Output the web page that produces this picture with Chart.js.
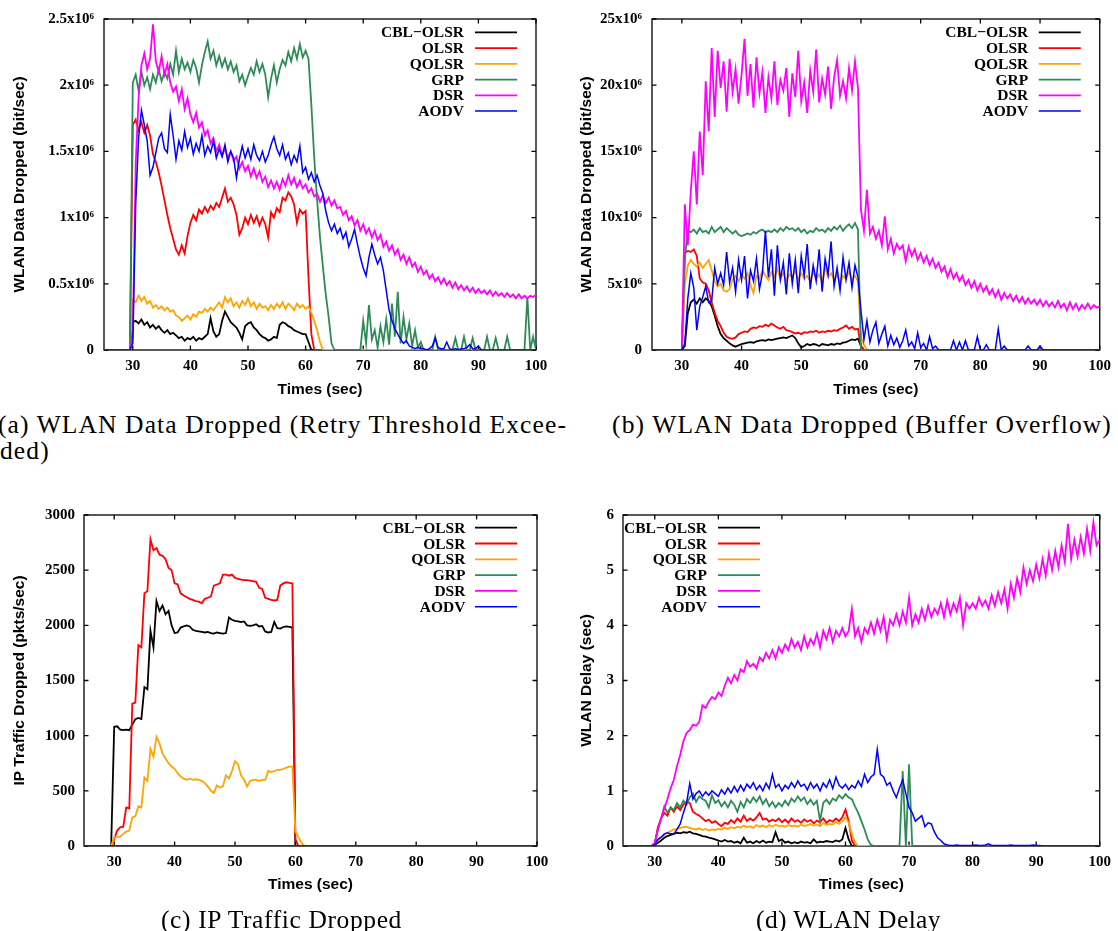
<!DOCTYPE html>
<html><head><meta charset="utf-8">
<script src="https://cdn.jsdelivr.net/npm/chart.js@4/dist/chart.umd.min.js"></script>
<style>
html,body{margin:0;padding:0;background:#fff;width:1118px;height:931px;overflow:hidden;position:relative}
canvas{position:absolute}
.cap{position:absolute;font-family:"Liberation Serif","Times New Roman",serif;font-size:25.5px;line-height:26px;white-space:nowrap;color:#000}
</style></head><body>
<canvas id="ca" width="559" height="400" style="left:0;top:0"></canvas>
<canvas id="cb" width="559" height="400" style="left:559px;top:0"></canvas>
<canvas id="cc" width="559" height="420" style="left:0;top:490px"></canvas>
<canvas id="cd" width="559" height="420" style="left:559px;top:490px"></canvas>
<div class="cap" id="capA1" data-w="569" style="left:-2px;top:412px">(a) WLAN Data Dropped (Retry Threshold Excee-</div>
<div class="cap" id="capA2" style="left:0;top:438px">ded)</div>
<div class="cap" data-w="500" style="left:612px;top:412px">(b) WLAN Data Dropped (Buffer Overflow)</div>
<div class="cap" data-w="241" style="left:161px;top:907px">(c) IP Traffic Dropped</div>
<div class="cap" data-w="185" style="left:756px;top:907px">(d) WLAN Delay</div>
<script>
// ---------- categories ----------
const NAMES = ['CBL\u2212OLSR', 'OLSR', 'QOLSR', 'GRP', 'DSR', 'AODV'];
const COLORS = ['#000000', '#ff0000', '#ffa500', '#2e8b57', '#ff00ff', '#0000ff'];
// sample times (s): 25, then 29.5 .. 100 every 0.5 s
const T = [25];
for (let k = 0; k <= 141; k++) T.push(29.5 + k * 0.5);
const X_TICKS = [30, 40, 50, 60, 70, 80, 90, 100];

// ---------- (a) WLAN Data Dropped, Retry Threshold Exceeded (x10^6 bit/s) ----------
const A_YTICKS = [0, 0.5, 1, 1.5, 2, 2.5];
const A_YLABELS = ['0', '0.5x10\u2076', '1x10\u2076', '1.5x10\u2076', '2x10\u2076', '2.5x10\u2076'];
const A_CBL = [0,0,
.21,.22,.20,.23,.19,.21,.17,.19,.16,.18,
.15,.13,.15,.12,.13,.11,.09,.10,.07,.09,
.08,.10,.07,.09,.08,.10,.12,.24,.14,.10,
.12,.22,.29,.25,.21,.19,.17,.13,.08,.18,
.20,.21,.17,.15,.12,.10,.09,.07,.08,.10,
.09,.19,.21,.20,.18,.17,.15,.14,.13,.12,
.12,.06,0,0,0,0,0,0,0,0,
0,0,0,0,0,0,0,0,0,0,
0,0,0,0,0,0,0,0,0,0,
0,0,0,0,0,0,0,0,0,0,
0,0,0,0,0,0,0,0,0,0,
0,0,0,0,0,0,0,0,0,0,
0,0,0,0,0,0,0,0,0,0,
0,0,0,0,0,0,0,0,0,0,
0];
const A_OLSR = [0,0,
1.70,1.74,1.66,1.72,1.64,1.70,1.62,1.48,1.42,1.34,
1.24,1.13,1.02,0.92,0.84,0.76,0.72,0.79,0.73,0.86,
0.96,1.02,0.98,1.06,1.03,1.08,1.04,1.09,1.06,1.11,
1.08,1.15,1.22,1.12,1.15,1.10,1.02,0.87,0.92,1.00,
0.95,1.02,0.96,1.01,0.94,1.00,0.95,0.85,1.04,1.00,
1.07,1.04,1.15,1.13,1.19,1.16,1.10,0.96,1.06,1.03,
1.05,0.55,0.12,0,0,0,0,0,0,0,
0,0,0,0,0,0,0,0,0,0,
0,0,0,0,0,0,0,0,0,0,
0,0,0,0,0,0,0,0,0,0,
0,0,0,0,0,0,0,0,0,0,
0,0,0,0,0,0,0,0,0,0,
0,0,0,0,0,0,0,0,0,0,
0,0,0,0,0,0,0,0,0,0,
0];
const A_QOLSR = [0,0,
0.38,0.36,0.41,0.37,0.40,0.35,0.37,0.32,0.34,0.31,
0.33,0.30,0.32,0.29,0.30,0.26,0.25,0.22,0.24,0.26,
0.23,0.27,0.25,0.29,0.28,0.31,0.29,0.32,0.30,0.33,
0.36,0.32,0.40,0.36,0.39,0.33,0.36,0.32,0.37,0.34,
0.39,0.33,0.36,0.31,0.35,0.32,0.33,0.30,0.34,0.31,
0.35,0.32,0.36,0.31,0.35,0.33,0.30,0.35,0.32,0.34,
0.31,0.33,0.28,0.22,0.15,0.06,0,0,0,0,
0,0,0,0,0,0,0,0,0,0,
0,0,0,0,0,0,0,0,0,0,
0,0,0,0,0,0,0,0,0,0,
0,0,0,0,0,0,0,0,0,0,
0,0,0,0,0,0,0,0,0,0,
0,0,0,0,0,0,0,0,0,0,
0,0,0,0,0,0,0,0,0,0,
0];
const A_GRP = [0,0,
2.02,2.08,1.96,2.10,2.00,2.06,1.97,2.08,2.02,2.12,
2.03,2.10,2.05,2.16,2.08,2.26,2.10,2.20,2.12,2.17,
2.10,2.19,2.13,2.02,2.15,2.25,2.33,2.20,2.26,2.15,
2.22,2.14,2.20,2.12,2.18,2.10,2.15,2.03,2.08,2.00,
2.07,2.13,2.08,2.18,2.10,2.16,2.08,1.91,2.05,2.15,
2.02,2.12,2.19,2.15,2.25,2.18,2.28,2.20,2.31,2.21,
2.26,2.20,1.85,1.45,1.13,0.85,0.63,0.42,0.25,0.05,
0,0,0,0,0,0,0,0,0,0,
0.22,0.05,0.34,0.08,0.15,0.02,0.18,0.06,0.23,0.04,
0.35,0.10,0.44,0.05,0.25,0.08,0.20,0.03,0.15,0.02,
0.06,0,0,0,0,0.10,0,0,0,0,
0,0,0.09,0,0,0.10,0,0,0.09,0,
0,0,0,0.10,0,0,0.09,0,0,0,
0.10,0,0,0,0,0,0,0.40,0,0.10,
0];
const A_DSR = [0,0,
0.10,1.40,1.90,2.15,2.24,2.12,2.20,2.46,2.18,2.10,
2.22,2.08,2.16,2.02,1.95,1.99,1.88,1.97,1.82,1.90,
1.78,1.72,1.79,1.68,1.72,1.62,1.66,1.56,1.60,1.50,
1.55,1.47,1.52,1.45,1.50,1.43,1.46,1.37,1.42,1.35,
1.39,1.31,1.37,1.30,1.35,1.27,1.31,1.23,1.28,1.22,
1.27,1.21,1.29,1.24,1.32,1.25,1.30,1.23,1.28,1.22,
1.25,1.19,1.22,1.16,1.18,1.12,1.17,1.11,1.15,1.09,
1.13,1.07,1.08,1.02,1.05,0.98,1.01,0.94,0.98,0.90,
0.95,0.88,0.92,0.85,0.90,0.83,0.87,0.78,0.82,0.75,
0.79,0.72,0.76,0.68,0.72,0.65,0.70,0.63,0.66,0.59,
0.63,0.57,0.60,0.54,0.57,0.52,0.55,0.50,0.54,0.49,
0.52,0.47,0.51,0.46,0.49,0.45,0.48,0.44,0.47,0.43,
0.46,0.43,0.45,0.42,0.45,0.41,0.44,0.41,0.43,0.40,
0.43,0.40,0.42,0.39,0.42,0.39,0.41,0.39,0.41,0.40,
0.42];
const A_AODV = [0,0,
0.05,1.10,1.60,1.81,1.70,1.58,1.32,1.38,1.49,1.60,
1.64,1.52,1.49,1.78,1.62,1.44,1.58,1.51,1.65,1.53,
1.60,1.48,1.56,1.50,1.62,1.47,1.54,1.49,1.58,1.45,
1.52,1.46,1.55,1.42,1.50,1.45,1.30,1.44,1.54,1.45,
1.52,1.44,1.55,1.47,1.43,1.50,1.42,1.47,1.55,1.61,
1.52,1.47,1.55,1.44,1.49,1.40,1.47,1.42,1.54,1.34,
1.38,1.29,1.34,1.27,1.32,1.24,1.18,1.05,0.96,0.90,
0.95,0.88,0.92,0.84,0.89,0.78,0.84,0.91,0.80,0.70,
0.62,0.56,0.70,0.80,0.72,0.65,0.70,0.60,0.45,0.30,
0.22,0.16,0.12,0.08,0.05,0.07,0.03,0.02,0.01,0.02,
0.01,0.01,0,0.01,0.03,0.09,0.02,0.01,0.01,0.06,
0.01,0,0.01,0,0.01,0.01,0.02,0.04,0.01,0.01,
0.03,0,0,0,0,0,0,0,0,0,
0,0,0,0,0,0,0,0,0,0,
0];

// ---------- (b) WLAN Data Dropped, Buffer Overflow (x10^6 bit/s) ----------
const B_YTICKS = [0, 5, 10, 15, 20, 25];
const B_YLABELS = ['0', '5x10\u2076', '10x10\u2076', '15x10\u2076', '20x10\u2076', '25x10\u2076'];
const B_CBL = [0,0,
0,0.3,2.8,3.6,3.8,3.5,3.9,3.6,3.9,3.7,
3.3,2.6,1.8,1.2,0.9,0.7,0.5,0.35,0.25,0.35,
0.45,0.5,0.55,0.6,0.55,0.65,0.7,0.75,0.7,0.8,
0.75,0.8,0.85,0.9,0.95,0.9,1.0,1.1,0.9,0.5,
0.2,0.3,0.45,0.35,0.45,0.4,0.3,0.45,0.4,0.35,
0.45,0.4,0.5,0.45,0.55,0.6,0.7,0.8,0.75,0.85,
0.3,0,0,0,0,0,0,0,0,0,
0,0,0,0,0,0,0,0,0,0,
0,0,0,0,0,0,0,0,0,0,
0,0,0,0,0,0,0,0,0,0,
0,0,0,0,0,0,0,0,0,0,
0,0,0,0,0,0,0,0,0,0,
0,0,0,0,0,0,0,0,0,0,
0,0,0,0,0,0,0,0,0,0,
0];
const B_OLSR = [0,0,
0,7.3,7.5,7.4,7.6,7.1,5.4,5.1,5.0,4.5,
3.6,2.8,2.2,1.8,1.3,1.0,0.9,0.85,0.95,1.2,
1.3,1.4,1.35,1.6,1.7,1.65,1.8,1.75,1.9,1.8,
2.0,1.85,1.7,1.6,1.75,1.5,1.45,1.35,1.25,1.3,
1.2,1.35,1.3,1.4,1.35,1.45,1.3,1.4,1.35,1.45,
1.4,1.5,1.45,1.6,1.7,1.85,1.6,1.75,1.55,1.6,
0.3,0,0,0,0,0,0,0,0,0,
0,0,0,0,0,0,0,0,0,0,
0,0,0,0,0,0,0,0,0,0,
0,0,0,0,0,0,0,0,0,0,
0,0,0,0,0,0,0,0,0,0,
0,0,0,0,0,0,0,0,0,0,
0,0,0,0,0,0,0,0,0,0,
0,0,0,0,0,0,0,0,0,0,
0];
const B_QOLSR = [0,0,
0,4.9,6.4,6.8,6.5,6.3,6.6,6.2,6.5,6.8,
6.0,5.2,4.8,5.0,4.5,4.4,4.6,5.3,5.6,5.2,
5.7,5.4,5.8,4.9,4.3,5.6,5.4,6.0,5.6,5.3,
5.9,5.5,6.1,5.4,5.8,5.2,5.7,5.5,6.0,5.3,
5.8,5.4,5.6,5.2,5.9,5.4,5.7,5.1,6.2,5.5,
5.8,5.3,5.7,5.0,5.6,5.4,5.9,5.3,5.6,5.2,
1.0,0.4,0,0,0,0,0,0,0,0,
0,0,0,0,0,0,0,0,0,0,
0,0,0,0,0,0,0,0,0,0,
0,0,0,0,0,0,0,0,0,0,
0,0,0,0,0,0,0,0,0,0,
0,0,0,0,0,0,0,0,0,0,
0,0,0,0,0,0,0,0,0,0,
0,0,0,0,0,0,0,0,0,0,
0];
const B_GRP = [0,0,
0,7.0,9.0,8.9,9.1,8.8,9.2,8.9,9.0,8.8,
9.3,8.9,9.1,9.3,8.9,9.2,9.0,8.8,9.0,8.7,
8.6,8.7,8.8,8.7,8.9,8.8,9.0,9.1,8.9,9.0,
8.9,9.1,8.9,9.2,9.0,9.3,9.1,9.2,9.0,9.2,
8.9,9.1,8.8,9.0,8.9,9.2,9.0,9.1,8.9,9.2,
9.0,9.3,9.1,9.4,9.0,9.3,9.5,9.2,9.6,9.1,
0,0,0,0,0,0,0,0,0,0,
0,0,0,0,0,0,0,0,0,0,
0,0,0,0,0,0,0,0,0,0,
0,0,0,0,0,0,0,0,0,0,
0,0,0,0,0,0,0,0,0,0,
0,0,0,0,0,0,0,0,0,0,
0,0,0,0,0,0,0,0,0,0,
0,0,0,0,0,0,0,0,0,0,
0];
const B_DSR = [0,0,
0,11.0,7.9,12.0,15.0,11.0,16.5,13.2,20.3,16.5,
22.8,17.6,22.6,19.8,21.8,18.0,22.0,19.5,21.2,18.6,
20.8,23.5,19.2,21.6,18.3,22.1,19.4,21.0,17.9,20.6,
19.0,21.8,18.5,20.4,19.6,21.3,17.6,20.9,19.1,22.6,
18.8,20.2,17.9,21.1,19.5,22.7,18.7,20.5,19.3,21.4,
18.2,20.6,21.9,19.2,20.3,19.0,21.3,19.6,21.8,19.8,
10.6,9.0,12.1,8.8,9.3,8.4,9.0,7.9,10.1,7.6,
8.4,7.3,8.0,7.6,7.9,6.7,7.8,7.1,7.6,6.8,
7.3,6.6,7.1,6.4,6.9,6.2,6.6,5.9,6.3,5.5,
6.1,5.4,5.8,5.2,5.6,4.9,5.3,4.7,5.2,4.5,
5.0,4.4,4.8,4.2,4.6,4.0,4.5,3.8,4.3,3.9,
4.2,3.7,4.1,3.6,4.0,3.5,3.9,3.5,3.8,3.4,
3.8,3.3,3.7,3.3,3.6,3.2,3.7,3.2,3.5,3.0,
3.6,3.1,3.5,3.0,3.4,3.1,3.5,3.1,3.4,3.2,
3.3];
const B_AODV = [0,0,
0,0.5,3.9,5.8,4.7,1.5,3.3,4.0,4.8,3.6,
3.7,6.2,5.0,5.8,4.9,7.4,5.1,6.2,4.4,6.8,
5.3,7.1,3.9,6.0,5.2,6.9,4.6,5.8,9.0,5.5,
7.6,4.1,7.9,5.3,6.6,4.2,7.3,5.0,6.8,4.3,
7.1,5.6,8.0,4.6,6.4,5.2,7.6,4.4,6.9,5.7,
8.2,4.8,6.2,4.5,7.0,5.3,6.6,4.7,6.4,5.5,
3.0,0.8,2.2,0.6,1.5,2.1,0.5,1.2,1.8,0.3,
1.1,0.4,0.9,0.2,0.7,1.5,0.3,0.6,0.1,1.3,
0.2,0.5,0,1.0,0.1,0.3,0,0,0,0,
0,0.7,0,0.6,0,0.7,0,0,0,1.0,
0,0,0.4,0,0,0,1.6,0,0.3,0,
0,0,0,0,0,0,0.3,0,0,0,
0.3,0,0,0,0,0,0,0,0,0,
0,0,0,0,0,0,0,0,0,0,
0];

// ---------- (c) IP Traffic Dropped (pkts/s) ----------
const C_YTICKS = [0, 500, 1000, 1500, 2000, 2500, 3000];
const C_YLABELS = ['0', '500', '1000', '1500', '2000', '2500', '3000'];
const C_CBL = [0,0,
1080,1085,1055,1050,1055,1050,1100,1150,1160,1150,
1440,1420,1950,1800,2220,2130,2180,2100,2130,2000,
1930,1935,1980,1990,2000,1990,1960,1950,1945,1940,
1935,1940,1930,1925,1935,1930,1925,1930,2070,2050,
2040,2035,2030,2035,2000,1995,2000,2010,1990,1995,
1945,1935,1940,2030,1975,1970,1985,1990,1985,1980,
0,0,0,0,0,0,0,0,0,0,
0,0,0,0,0,0,0,0,0,0,
0,0,0,0,0,0,0,0,0,0,
0,0,0,0,0,0,0,0,0,0,
0,0,0,0,0,0,0,0,0,0,
0,0,0,0,0,0,0,0,0,0,
0,0,0,0,0,0,0,0,0,0,
0,0,0,0,0,0,0,0,0,0,
0];
const C_OLSR = [0,0,
60,140,170,175,350,340,1290,1300,1820,1800,
2290,2310,2780,2680,2700,2640,2630,2600,2520,2500,
2380,2370,2290,2270,2255,2240,2230,2220,2215,2200,
2240,2250,2260,2360,2370,2380,2460,2460,2450,2460,
2430,2420,2415,2410,2410,2405,2400,2395,2340,2330,
2250,2240,2230,2225,2230,2360,2380,2390,2385,2380,
60,0,0,0,0,0,0,0,0,0,
0,0,0,0,0,0,0,0,0,0,
0,0,0,0,0,0,0,0,0,0,
0,0,0,0,0,0,0,0,0,0,
0,0,0,0,0,0,0,0,0,0,
0,0,0,0,0,0,0,0,0,0,
0,0,0,0,0,0,0,0,0,0,
0,0,0,0,0,0,0,0,0,0,
0];
const C_QOLSR = [0,0,
80,80,85,110,130,140,260,270,360,350,
620,590,880,810,990,930,840,790,750,720,
700,660,630,610,600,610,600,605,600,590,
570,540,500,480,550,530,540,640,610,680,
770,740,640,600,540,590,600,600,590,600,
600,680,670,680,690,690,700,710,720,720,
130,80,30,0,0,0,0,0,0,0,
0,0,0,0,0,0,0,0,0,0,
0,0,0,0,0,0,0,0,0,0,
0,0,0,0,0,0,0,0,0,0,
0,0,0,0,0,0,0,0,0,0,
0,0,0,0,0,0,0,0,0,0,
0,0,0,0,0,0,0,0,0,0,
0,0,0,0,0,0,0,0,0,0,
0];
const C_GRP = [0,0,
0,0,0,0,0,0,0,0,0,0, 0,0,0,0,0,0,0,0,0,0, 0,0,0,0,0,0,0,0,0,0,
0,0,0,0,0,0,0,0,0,0, 0,0,0,0,0,0,0,0,0,0, 0,0,0,0,0,0,0,0,0,0,
0,0,0,0,0,0,0,0,0,0, 0,0,0,0,0,0,0,0,0,0, 0,0,0,0,0,0,0,0,0,0,
0,0,0,0,0,0,0,0,0,0, 0,0,0,0,0,0,0,0,0,0, 0,0,0,0,0,0,0,0,0,0,
0,0,0,0,0,0,0,0,0,0, 0,0,0,0,0,0,0,0,0,0,
0];
const C_DSR = [0,0,
0,0,0,0,0,0,0,0,0,0, 0,0,0,0,0,0,0,0,0,0, 0,0,0,0,0,0,0,0,0,0,
0,0,0,0,0,0,0,0,0,0, 0,0,0,0,0,0,0,0,0,0, 0,0,0,0,0,0,0,0,0,0,
0,0,0,0,0,0,0,0,0,0, 0,0,0,0,0,0,0,0,0,0, 0,0,0,0,0,0,0,0,0,0,
0,0,0,0,0,0,0,0,0,0, 0,0,0,0,0,0,0,0,0,0, 0,0,0,0,0,0,0,0,0,0,
0,0,0,0,0,0,0,0,0,0, 0,0,0,0,0,0,0,0,0,0,
0];
const C_AODV = [0,0,
0,0,0,0,0,0,0,0,0,0, 0,0,0,0,0,0,0,0,0,0, 0,0,0,0,0,0,0,0,0,0,
0,0,0,0,0,0,0,0,0,0, 0,0,0,0,0,0,0,0,0,0, 0,0,0,0,0,0,0,0,0,0,
0,0,0,0,0,0,0,0,0,0, 0,0,0,0,0,0,0,0,0,0, 0,0,0,0,0,0,0,0,0,0,
0,0,0,0,0,0,0,0,0,0, 0,0,0,0,0,0,0,0,0,0, 0,0,0,0,0,0,0,0,0,0,
0,0,0,0,0,0,0,0,0,0, 0,0,0,0,0,0,0,0,0,0,
0];

// ---------- (d) WLAN Delay (s) ----------
const D_YTICKS = [0, 1, 2, 3, 4, 5, 6];
const D_YLABELS = ['0', '1', '2', '3', '4', '5', '6'];
const D_CBL = [0,0,
0.02,0.06,0.10,0.15,0.18,0.20,0.22,0.24,0.23,0.25,
0.24,0.26,0.23,0.22,0.20,0.18,0.17,0.15,0.14,0.12,
0.10,0.08,0.11,0.08,0.09,0.06,0.08,0.05,0.15,0.06,
0.08,0.05,0.09,0.06,0.10,0.06,0.08,0.07,0.25,0.09,
0.12,0.06,0.08,0.05,0.07,0.05,0.08,0.06,0.07,0.05,
0.12,0.06,0.08,0.07,0.09,0.08,0.07,0.10,0.08,0.12,
0.33,0.12,0,0,0,0,0,0,0,0,
0,0,0,0,0,0,0,0,0,0,
0,0,0,0,0,0,0,0,0,0,
0,0,0,0,0,0,0,0,0,0,
0,0,0,0,0,0,0,0,0,0,
0,0,0,0,0,0,0,0,0,0,
0,0,0,0,0,0,0,0,0,0,
0,0,0,0,0,0,0,0,0,0,
0];
const D_OLSR = [0,0,
0.05,0.35,0.5,0.6,0.55,0.7,0.62,0.72,0.65,0.75,
0.8,0.78,0.62,0.58,0.55,0.5,0.45,0.48,0.42,0.45,
0.4,0.36,0.42,0.4,0.47,0.42,0.5,0.44,0.55,0.45,
0.5,0.46,0.52,0.6,0.48,0.5,0.44,0.48,0.45,0.5,
0.43,0.48,0.42,0.5,0.44,0.47,0.42,0.48,0.44,0.47,
0.41,0.46,0.43,0.5,0.42,0.47,0.44,0.5,0.45,0.52,
0.66,0.45,0.1,0,0,0,0,0,0,0,
0,0,0,0,0,0,0,0,0,0,
0,0,0,0,0,0,0,0,0,0,
0,0,0,0,0,0,0,0,0,0,
0,0,0,0,0,0,0,0,0,0,
0,0,0,0,0,0,0,0,0,0,
0,0,0,0,0,0,0,0,0,0,
0,0,0,0,0,0,0,0,0,0,
0];
const D_QOLSR = [0,0,
0.03,0.1,0.15,0.2,0.24,0.27,0.3,0.31,0.33,0.34,
0.35,0.33,0.31,0.3,0.32,0.29,0.31,0.28,0.3,0.29,
0.31,0.3,0.33,0.31,0.34,0.32,0.35,0.33,0.37,0.34,
0.36,0.33,0.38,0.35,0.37,0.34,0.38,0.35,0.39,0.36,
0.37,0.35,0.38,0.36,0.37,0.35,0.39,0.36,0.38,0.4,
0.37,0.39,0.36,0.42,0.38,0.4,0.39,0.44,0.4,0.45,
0.52,0.42,0.22,0.06,0,0,0,0,0,0,
0,0,0,0,0,0,0,0,0,0,
0,0,0,0,0,0,0,0,0,0,
0,0,0,0,0,0,0,0,0,0,
0,0,0,0,0,0,0,0,0,0,
0,0,0,0,0,0,0,0,0,0,
0,0,0,0,0,0,0,0,0,0,
0,0,0,0,0,0,0,0,0,0,
0];
const D_GRP = [0,0,
0.05,0.3,0.5,0.72,0.6,0.7,0.65,0.78,0.7,0.82,
0.75,0.88,0.95,0.8,0.9,0.85,0.82,0.7,0.92,0.78,
0.83,0.72,0.8,0.7,0.82,0.75,0.62,0.8,0.7,0.85,
0.78,0.88,0.8,0.9,0.76,0.85,0.72,0.8,0.7,0.78,
0.72,0.82,0.74,0.86,0.8,0.9,0.82,0.88,0.76,0.84,
0.75,0.82,0.45,0.78,0.84,0.76,0.86,0.82,0.92,0.86,
0.94,0.88,0.85,0.72,0.6,0.45,0.3,0.12,0.02,0,
0,0,0,0,0,0,0,0,1.36,0,
1.48,0,0,0,0,0,0,0,0,0,
0,0,0,0,0,0,0,0,0,0,
0,0,0,0,0,0,0,0,0,0,
0,0,0,0,0,0,0,0,0,0,
0,0,0,0,0,0,0,0,0,0,
0,0,0,0,0,0,0,0,0,0,
0];
const D_DSR = [0,0,
0.05,0.3,0.5,0.68,0.85,1.05,1.2,1.45,1.65,1.9,
2.05,2.1,2.2,2.18,2.25,2.55,2.5,2.62,2.7,2.66,
2.78,2.72,2.9,3.05,2.95,3.1,3.0,3.2,3.15,3.35,
3.25,3.3,3.22,3.42,3.35,3.5,3.4,3.55,3.4,3.6,
3.5,3.65,3.55,3.75,3.6,3.7,3.55,3.8,3.6,3.75,
3.65,3.85,3.6,3.9,3.75,3.95,3.7,3.9,3.8,3.95,
3.8,3.9,4.3,3.8,3.95,3.7,3.95,3.85,4.05,3.85,
4.1,3.9,4.15,3.75,4.1,4.0,4.2,4.0,4.25,4.05,
4.5,4.0,4.2,4.05,4.3,4.1,4.35,4.15,4.3,4.2,
4.4,4.15,4.45,4.2,4.4,4.25,4.5,4.0,4.4,4.3,
4.4,4.3,4.5,4.35,4.45,4.3,4.55,4.35,4.6,4.4,
4.65,4.3,4.75,4.5,4.85,4.6,5.05,4.75,5.0,4.8,
5.1,4.85,5.2,4.9,5.3,5.0,5.35,5.05,5.45,5.15,
5.84,5.2,5.55,5.25,5.6,5.3,5.75,5.35,5.87,5.45,
5.55];
const D_AODV = [0,0,
0.02,0.12,0.16,0.22,0.24,0.22,0.22,0.3,0.4,0.6,
0.78,1.13,0.85,0.95,1.0,0.9,0.98,0.92,1.0,0.95,
0.9,1.02,0.94,1.05,0.96,1.08,0.98,1.1,1.0,1.12,
1.05,1.15,1.02,1.1,1.0,1.14,1.04,1.3,1.06,1.12,
1.0,1.1,1.04,1.15,1.06,1.18,1.08,1.12,1.02,1.15,
1.05,1.12,1.0,1.14,1.06,1.2,1.04,1.25,1.1,1.05,
1.12,1.02,1.1,1.05,1.18,1.08,1.3,1.15,1.25,1.3,
1.75,1.3,1.25,1.1,1.15,1.0,0.88,1.05,1.2,0.95,
0.7,0.6,0.45,0.5,0.55,0.35,0.42,0.4,0.25,0.15,
0.1,0.04,0.02,0.01,0.01,0.02,0.01,0.01,0.01,0.01,
0.01,0.02,0.01,0.01,0.02,0.04,0.01,0.01,0.01,0.01,
0.01,0.01,0.02,0.01,0.01,0.01,0.01,0.01,0.01,0.02,
0.01,0.01,0,0,0,0,0,0,0,0,
0,0,0,0,0,0,0,0,0,0,
0];

// ---------- drawing ----------
const TICKFONT = { family: '"Liberation Serif", "Times New Roman", serif', size: 15, weight: 'bold' };
const TITLEFONT = { family: '"Liberation Sans", Arial, sans-serif', size: 15.5, weight: 'bold' };

function series(vals) { return T.map((t, i) => ({ x: t, y: vals[i] })); }

const gpFrame = {
  id: 'gpFrame',
  beforeDatasetsDraw(chart) {
    const { ctx, chartArea: a, scales: { x, y } } = chart;
    ctx.save();
    ctx.strokeStyle = '#000';
    ctx.lineWidth = 1.3;
    ctx.strokeRect(a.left, a.top, a.right - a.left, a.bottom - a.top);
    const L = 4.5;
    ctx.beginPath();
    x.ticks.forEach(t => {
      const p = x.getPixelForValue(t.value);
      ctx.moveTo(p, a.bottom); ctx.lineTo(p, a.bottom - L);
      ctx.moveTo(p, a.top); ctx.lineTo(p, a.top + L);
    });
    y.ticks.forEach(t => {
      const p = y.getPixelForValue(t.value);
      ctx.moveTo(a.left, p); ctx.lineTo(a.left + L, p);
      ctx.moveTo(a.right, p); ctx.lineTo(a.right - L, p);
    });
    ctx.stroke();
    ctx.restore();
  }
};

const gpLegend = {
  id: 'gpLegend',
  afterDatasetsDraw(chart, args, o) {
    const { ctx, chartArea: a } = chart;
    const base = o.side === 'left' ? a.left : a.right;
    const sg = o.side === 'left' ? 1 : -1;
    ctx.save();
    ctx.font = 'bold 15.5px "Liberation Serif", "Times New Roman", serif';
    ctx.textAlign = 'right';
    ctx.textBaseline = 'middle';
    chart.data.datasets.forEach((ds, i) => {
      const yy = a.top + o.top + i * o.step;
      ctx.fillStyle = '#000';
      ctx.fillText(ds.label, base + sg * o.text, yy + 1);
      ctx.strokeStyle = ds.borderColor;
      ctx.lineWidth = ds.borderWidth;
      ctx.beginPath();
      ctx.moveTo(base + sg * o.l1, yy);
      ctx.lineTo(base + sg * o.l2, yy);
      ctx.stroke();
    });
    ctx.restore();
  }
};

function build(id, o) {
  return new Chart(document.getElementById(id), {
    type: 'line',
    data: {
      datasets: NAMES.map((n, i) => ({
        label: n, data: series(o.series[i]), borderColor: COLORS[i],
        borderWidth: i === 5 ? 1.5 : 1.8, pointRadius: 0, fill: false,
        tension: 0, order: 6 - i
      }))
    },
    options: {
      responsive: false, animation: false, devicePixelRatio: 1,
      layout: { padding: { left: 0, top: o.top, right: o.right, bottom: 0 } },
      plugins: { legend: { display: false }, tooltip: { enabled: false }, gpLegend: o.legend },
      scales: {
        x: {
          type: 'linear', min: 25, max: 100,
          afterBuildTicks: s => { s.ticks = X_TICKS.map(v => ({ value: v })); },
          afterFit: s => { s.height = o.xh; },
          grid: { display: false, drawTicks: false }, border: { display: false },
          ticks: { padding: 7, autoSkip: false, maxRotation: 0, minRotation: 0, color: '#000', font: TICKFONT, callback: v => String(v) },
          title: { display: true, text: 'Times (sec)', color: '#000', font: TITLEFONT, padding: { top: 0, bottom: o.xtp } }
        },
        y: {
          type: 'linear', min: 0, max: o.ymax,
          afterBuildTicks: s => { s.ticks = o.yticks.map(v => ({ value: v })); },
          afterFit: s => { s.width = o.yw; },
          grid: { display: false, drawTicks: false }, border: { display: false },
          ticks: { padding: o.ypad, color: '#000', font: TICKFONT, callback: (v, i) => o.ylabels[i] },
          title: { display: true, text: o.ytitle, color: '#000', font: TITLEFONT, padding: { top: o.ytp, bottom: 0 } }
        }
      }
    },
    plugins: [gpFrame, gpLegend]
  });
}

build('ca', {
  series: [A_CBL, A_OLSR, A_QOLSR, A_GRP, A_DSR, A_AODV],
  yticks: A_YTICKS, ylabels: A_YLABELS, ymax: 2.5,
  ytitle: 'WLAN Data Dropped (bit/sec)',
  top: 19, right: 23, yw: 104, xh: 50, ypad: 10, ytp: 10.3, xtp: 1.4,
  legend: { side: 'right', text: 72, l1: 61, l2: 19, top: 13.3, step: 15.75 }
});
build('cb', {
  series: [B_CBL, B_OLSR, B_QOLSR, B_GRP, B_DSR, B_AODV],
  yticks: B_YTICKS, ylabels: B_YLABELS, ymax: 25,
  ytitle: 'WLAN Data Dropped (bit/sec)',
  top: 19, right: 15, yw: 93, xh: 50, ypad: 10, ytp: 18.4, xtp: 1.4,
  legend: { side: 'right', text: 71.5, l1: 61, l2: 19, top: 13.3, step: 15.75 }
});
build('cc', {
  series: [C_CBL, C_OLSR, C_QOLSR, C_GRP, C_DSR, C_AODV],
  yticks: C_YTICKS, ylabels: C_YLABELS, ymax: 3000,
  ytitle: 'IP Traffic Dropped (pkts/sec)',
  top: 25, right: 22, yw: 84, xh: 64, ypad: 9, ytp: 10.3, xtp: 15.7,
  legend: { side: 'right', text: 71.6, l1: 62, l2: 20, top: 12.7, step: 15.8 }
});
build('cd', {
  series: [D_CBL, D_OLSR, D_QOLSR, D_GRP, D_DSR, D_AODV],
  yticks: D_YTICKS, ylabels: D_YLABELS, ymax: 6,
  ytitle: 'WLAN Delay (sec)',
  top: 25, right: 16, yw: 64, xh: 64, ypad: 9, ytp: 18.4, xtp: 15.7,
  legend: { side: 'left', text: 84, l1: 95, l2: 137, top: 12.7, step: 15.8 }
});

// caption widths (typesetting only)
document.querySelectorAll('.cap[data-w]').forEach(el => {
  const w = el.getBoundingClientRect().width;
  const ls = (parseFloat(el.dataset.w) - w) / el.textContent.length;
  el.style.letterSpacing = ls + 'px';
  if (el.id === 'capA1') document.getElementById('capA2').style.letterSpacing = ls + 'px';
});
</script>
</body></html>
